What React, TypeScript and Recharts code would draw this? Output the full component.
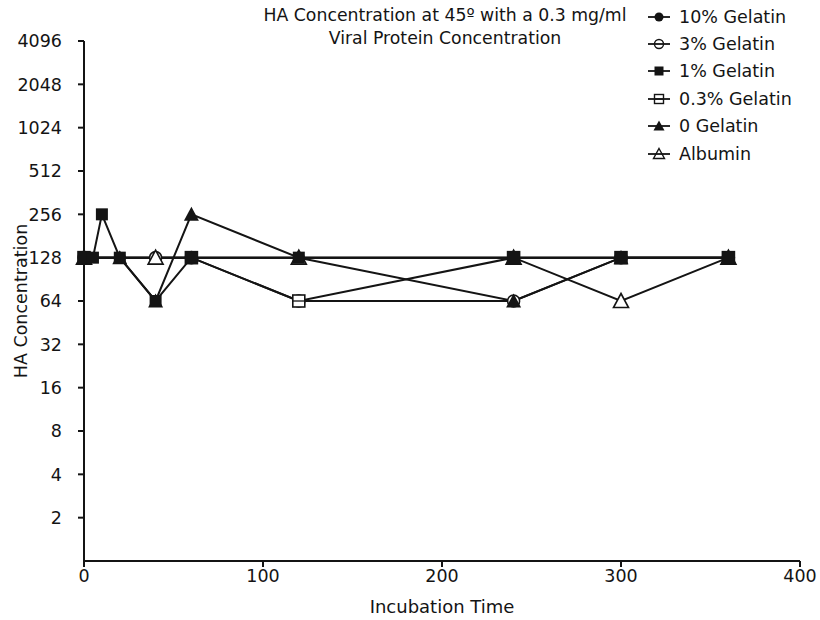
import React from 'react';
import { LineChart, Line, XAxis, YAxis, Legend } from 'recharts';

// incubation times and HA titres, per formulation
const gel10Times = [0, 20, 60, 120, 240, 300, 360];
const gel10Values = [128, 128, 128, 128, 128, 128, 128];

const gel3Times = [0, 40, 60, 120, 240, 300, 360];
const gel3Values = [128, 128, 128, 64, 64, 128, 128];

const gel1Times = [0, 5, 10, 20, 40, 60, 120, 240, 300, 360];
const gel1Values = [128, 128, 256, 128, 64, 128, 128, 128, 128, 128];

const gel03Times = [0, 60, 120, 240, 300, 360];
const gel03Values = [128, 128, 64, 128, 128, 128];

const gel0Times = [0, 20, 40, 60, 120, 240, 300, 360];
const gel0Values = [128, 128, 64, 256, 128, 64, 128, 128];

const albuminTimes = [0, 40, 120, 240, 300, 360];
const albuminValues = [128, 128, 128, 128, 64, 128];

const xTicks = [0, 100, 200, 300, 400];
const yTicks = [2, 4, 8, 16, 32, 64, 128, 256, 512, 1024, 2048, 4096];

const FONT = '"DejaVu Sans", Arial, sans-serif';
const INK = '#141414';

type Shape = 'circle' | 'openCircle' | 'square' | 'openSquare' | 'triangle' | 'openTriangle';

const zip = (t: number[], v: number[]) => t.map((time, i) => ({ t: time, v: v[i] }));

const series = [
  { name: '10% Gelatin', shape: 'circle' as Shape, data: zip(gel10Times, gel10Values) },
  { name: '3% Gelatin', shape: 'openCircle' as Shape, data: zip(gel3Times, gel3Values) },
  { name: '1% Gelatin', shape: 'square' as Shape, data: zip(gel1Times, gel1Values) },
  { name: '0.3% Gelatin', shape: 'openSquare' as Shape, data: zip(gel03Times, gel03Values) },
  { name: '0 Gelatin', shape: 'triangle' as Shape, data: zip(gel0Times, gel0Values) },
  { name: 'Albumin', shape: 'openTriangle' as Shape, data: zip(albuminTimes, albuminValues) },
];

// paint order, filled squares end up on top like the original
const drawOrder = ['10% Gelatin', '3% Gelatin', '0 Gelatin', 'Albumin', '0.3% Gelatin', '1% Gelatin'];

function marker(shape: Shape, cx: number, cy: number, s: number, legend = false) {
  const h = s / 2;
  const openFill = legend ? 'none' : '#fff';
  const sw = legend ? 1.4 : 1.6;
  switch (shape) {
    case 'circle':
      return <circle cx={cx} cy={cy} r={h} fill={INK} />;
    case 'openCircle':
      return <circle cx={cx} cy={cy} r={h} fill={openFill} stroke={INK} strokeWidth={sw} />;
    case 'square':
      return <rect x={cx - h} y={cy - h} width={s} height={s} fill={INK} />;
    case 'openSquare':
      return (
        <g>
          <rect x={cx - h} y={cy - h} width={s} height={s} fill={openFill} stroke={INK} strokeWidth={sw} />
          <line x1={cx - h} x2={cx + h} y1={cy} y2={cy} stroke={INK} strokeWidth={1.3} />
        </g>
      );
    case 'triangle':
      return <polygon points={`${cx},${cy - h - 1} ${cx + h + 1},${cy + h} ${cx - h - 1},${cy + h}`} fill={INK} />;
    default:
      return (
        <polygon
          points={`${cx},${cy - h - 1} ${cx + h + 1},${cy + h} ${cx - h - 1},${cy + h}`}
          fill={openFill}
          stroke={INK}
          strokeWidth={sw}
        />
      );
  }
}

function LegendBox() {
  return (
    <div style={{ fontFamily: FONT, fontSize: 17.5, color: INK }}>
      {series.map((s) => (
        <div key={s.name} style={{ height: 27.4, display: 'flex', alignItems: 'center' }}>
          <svg width={30} height={20} style={{ marginRight: 3 }}>
            <line x1={2} x2={24} y1={10} y2={10} stroke={INK} strokeWidth={1.8} />
            {marker(s.shape, 13, 10, 9, true)}
          </svg>
          <span>{s.name}</span>
        </div>
      ))}
    </div>
  );
}

export default function App() {
  return (
    <div style={{ position: 'absolute', left: 0, top: 0, width: 820, height: 620, background: '#fff' }}>
      <LineChart width={820} height={620} margin={{ top: 41, right: 20, bottom: 0, left: 0 }}>
        <XAxis
          type="number"
          dataKey="t"
          domain={[0, 400]}
          ticks={xTicks}
          height={59}
          tickSize={6}
          tickMargin={3}
          stroke={INK}
          strokeWidth={2}
          tick={{ fill: INK, fontSize: 17.5, fontFamily: FONT }}
          label={{ value: 'Incubation Time', position: 'insideBottom', offset: 7, fill: INK, fontSize: 18, fontFamily: FONT }}
        />
        <YAxis
          type="number"
          dataKey="v"
          scale="log"
          domain={[1, 4096]}
          allowDataOverflow
          ticks={yTicks}
          interval={0}
          width={84}
          tickSize={6}
          tickMargin={16}
          stroke={INK}
          strokeWidth={2}
          tick={{ fill: INK, fontSize: 17.5, fontFamily: FONT }}
          label={{
            value: 'HA Concentration',
            angle: -90,
            position: 'insideLeft',
            offset: 21,
            fill: INK,
            fontSize: 17.5,
            fontFamily: FONT,
            style: { textAnchor: 'middle' },
          }}
        />
        <Legend
          layout="vertical"
          align="center"
          verticalAlign="middle"
          content={() => <LegendBox />}
          wrapperStyle={{ left: 646, top: 3, width: 172, height: 170 }}
        />
        {drawOrder.map((name) => {
          const s = series.find((x) => x.name === name)!;
          const size = s.shape === 'triangle' || s.shape === 'openTriangle' ? 13 : 12;
          return (
            <Line
              key={s.name}
              name={s.name}
              data={s.data}
              dataKey="v"
              type="linear"
              stroke={INK}
              strokeWidth={2}
              isAnimationActive={false}
              dot={(p: any) => <g key={`${s.name}-${p.index}`}>{marker(s.shape, p.cx, p.cy, size)}</g>}
              activeDot={false}
            />
          );
        })}
      </LineChart>
      <div
        style={{
          position: 'absolute',
          left: 245,
          top: 4,
          width: 400,
          textAlign: 'center',
          fontFamily: FONT,
          fontSize: 17.3,
          lineHeight: '23px',
          color: INK,
        }}
      >
        HA Concentration at 45º with a 0.3 mg/ml
        <br />
        Viral Protein Concentration
      </div>
    </div>
  );
}
